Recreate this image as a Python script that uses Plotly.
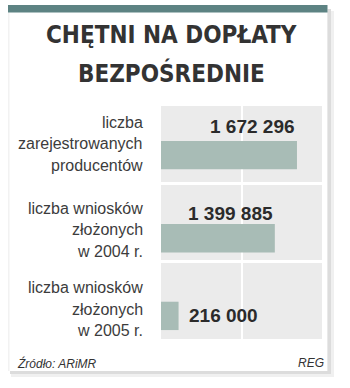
import plotly.graph_objects as go

# ---- data ----
categories = ["liczba zarejestrowanych producentów",
              "liczba wniosków złożonych w 2004 r.",
              "liczba wniosków złożonych w 2005 r."]
category_lines = [["liczba", "zarejestrowanych", "producentów"],
                  ["liczba wniosków", "złożonych", "w 2004 r."],
                  ["liczba wniosków", "złożonych", "w 2005 r."]]
values = [1672296, 1399885, 216000]
value_labels = ["1 672 296", "1 399 885", "216 000"]
title_lines = ["CHĘTNI NA DOPŁATY", "BEZPOŚREDNIE"]
source_text = "Źródło: ARiMR"
credit_text = "REG"

# ---- geometry helpers (pixel -> paper) ----
W, H = 350, 388
L, R, T, B = 161, 322, 106, 339


def px(x):
    return (x - L) / (R - L)


def py(y):
    return (B - y) / (B - T)


BAR = "#a8bcb6"
CELL = "#ebebeb"
TEAL = "#5d8383"
DARK = "#333333"

fig = go.Figure()
fig.add_trace(go.Bar(
    x=values, y=categories, orientation="h",
    marker=dict(color=BAR, line=dict(width=0)),
    width=0.365, offset=[-0.05, 0.02, 0.02],
    hoverinfo="skip",
))


def rect(x0, y0, x1, y1, color):
    return dict(type="rect", xref="paper", yref="paper", layer="below",
                x0=px(x0), x1=px(x1), y0=py(y0), y1=py(y1),
                fillcolor=color, line=dict(width=0))


shapes = [
    # soft shadow (right and bottom bands, outside plot area)
    rect(327.5, 11, 334, 377, "#f0f0f0"),
    rect(11, 371, 334, 377, "#f0f0f0"),
    rect(327.5, 9, 331, 374, "#dcdcdc"),
    rect(10, 371, 331, 374, "#dcdcdc"),
    rect(8, 12.5, 9.5, 371, "#f2f2f2"),
    # teal strip on top of card
    rect(8, 5, 327.5, 12.5, TEAL),
]

annotations = []
# title
for line, yy in zip(title_lines, [35, 73]):
    annotations.append(dict(
        text=line, xref="paper", yref="paper", x=px(171.5), y=py(yy),
        xanchor="center", yanchor="middle", showarrow=False,
        font=dict(family="DejaVu Sans Condensed, Liberation Sans Narrow, Roboto",
                  size=24, color=DARK, weight="bold"),
    ))

# category labels, one annotation per line
cat_mid_shift = [1, -7, -9]
for c, lines, s in zip(categories, category_lines, cat_mid_shift):
    for i, ln in enumerate(lines):
        annotations.append(dict(
            text=ln, xref="paper", yref="y", x=0, y=c, xshift=-16,
            yshift=s + (1 - i) * 21.5,
            xanchor="right", yanchor="middle", showarrow=False,
            font=dict(family="Liberation Sans", size=16, color="#3c3c3c"),
        ))

# value labels
val_pos = [("right", 0, 18), ("right", 0, 9), ("left", 8, -15)]
for c, v, t, (anc, xs, ys) in zip(categories, values, value_labels, val_pos):
    annotations.append(dict(
        text=t, xref="x", yref="y", x=v, y=c, xshift=xs, yshift=ys,
        xanchor=anc, yanchor="middle", showarrow=False,
        font=dict(family="Liberation Sans", size=19, color="#2b2b2b", weight="bold"),
    ))

# footer
annotations.append(dict(
    text=source_text, xref="paper", yref="paper", x=px(15), y=py(363),
    xanchor="left", yanchor="middle", showarrow=False,
    font=dict(family="Liberation Sans", size=12, color=DARK, style="italic"),
))
annotations.append(dict(
    text=credit_text, xref="paper", yref="paper", x=px(326), y=py(363),
    xanchor="right", yanchor="middle", showarrow=False,
    font=dict(family="Liberation Sans", size=12, color=DARK, style="italic"),
))

fig.update_layout(
    width=W, height=H,
    margin=dict(l=L, r=W - R, t=T, b=H - B, pad=0),
    paper_bgcolor="white", plot_bgcolor=CELL,
    showlegend=False,
    shapes=shapes, annotations=annotations,
    xaxis=dict(range=[0, 1980000], tickvals=[1000000], showticklabels=False,
               showgrid=True, gridcolor="white", gridwidth=2,
               zeroline=False, showline=False, ticks="", fixedrange=True),
    yaxis=dict(type="category", autorange="reversed", showticklabels=False,
               tickson="boundaries", showgrid=True, gridcolor="white", gridwidth=2.5,
               zeroline=False, showline=False, ticks="", fixedrange=True),
)

fig.write_html("out.html", config=dict(displayModeBar=False))
